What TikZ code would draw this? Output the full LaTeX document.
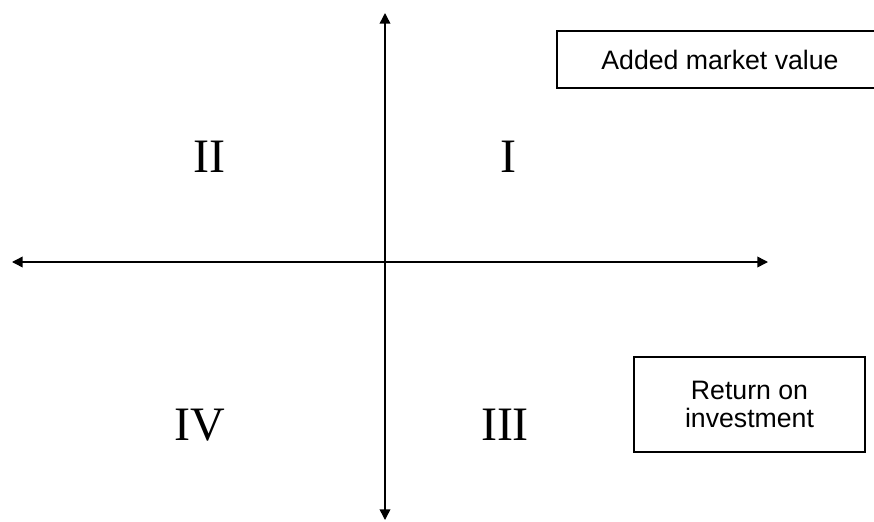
\documentclass[tikz,border=0pt]{standalone}
\usepackage{fontspec}
\setmainfont{Liberation Serif}
\setsansfont{Liberation Sans}
\usetikzlibrary{arrows.meta}
\tikzset{
  axis/.style={line width=1.1pt, {Triangle[length=8pt,width=8pt]}-{Triangle[length=8pt,width=8pt]}},
  labelbox/.style={draw, line width=1.1pt, rectangle, inner sep=0pt, align=center,
    font=\sffamily\fontsize{20}{21}\selectfont},
  quadrant/.style={anchor=base, inner sep=0pt, font=\fontsize{36}{40}\selectfont}
}
\begin{document}
\begin{tikzpicture}[x=0.75pt,y=-0.75pt]
  \useasboundingbox (0,0) rectangle (874,521);
  \clip (0,0) rectangle (874,521);
  % axis end points
  \coordinate (top) at (385,13);
  \coordinate (bottom) at (385,520);
  \coordinate (left) at (12,262);
  \coordinate (right) at (768,262);
  \draw[axis] (bottom) -- (top);
  \draw[axis] (left) -- (right);
  % quadrant numbers
  \node[quadrant] (q1) at (508,172) {I};
  \node[quadrant] (q2) at (209,172) {II};
  \node[quadrant] (q3) at (505,440) {III};
  \node[quadrant] (q4) at (200,440) {IV};
  % axis labels
  \node[labelbox, minimum width=326*0.75pt, minimum height=57*0.75pt] (amv) at (720,59.5) {Added market value};
  \node[labelbox, minimum width=231*0.75pt, minimum height=95*0.75pt] (roi) at (749.5,404.5) {Return on\\investment};
\end{tikzpicture}
\end{document}
